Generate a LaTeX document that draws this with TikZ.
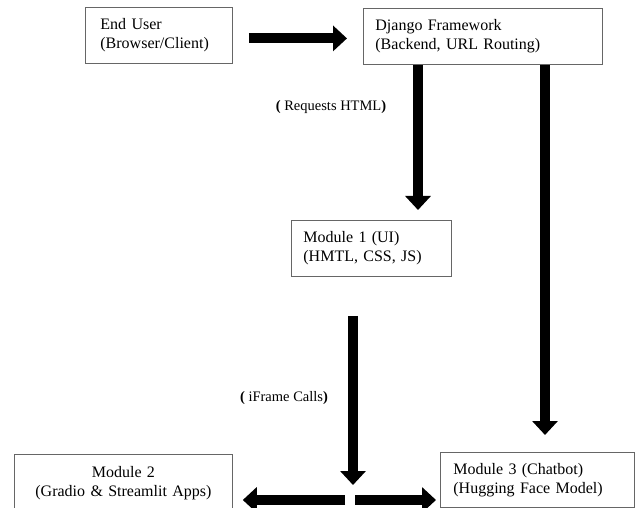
\documentclass[tikz,border=0pt]{standalone}
\usepackage{fontspec}
\setmainfont{Liberation Serif}
\usetikzlibrary{arrows.meta}
\begin{document}
\begin{tikzpicture}[x=1pt,y=-1pt,
  box/.style={draw=black!60, line width=0.8pt, rectangle, anchor=north west,
    inner ysep=0pt, font=\fontsize{16}{19}\selectfont},
  fat/.style={line width=10pt, -{Triangle[length=14pt,width=25pt]}},
  lbl/.style={font=\fontsize{14.5}{17}\selectfont}]
\useasboundingbox (0,0) rectangle (638,508);

\node[box, inner xsep=15pt, text width=117pt, minimum height=56pt, align=left] (eu) at (85,7)
  {End User\\(Browser/Client)};
\node[box, inner xsep=12pt, text width=215pt, minimum height=56pt, align=left] (dj) at (363,8)
  {Django Framework\\(Backend, URL Routing)};
\node[box, inner xsep=12pt, text width=136pt, minimum height=56pt, align=left] (m1) at (291,220)
  {Module 1 (UI)\\(HMTL, CSS, JS)};
\node[box, inner xsep=9pt, text width=200pt, minimum height=58pt, align=center] (m2) at (14,454)
  {Module 2\\(Gradio \& Streamlit Apps)};
\node[box, inner xsep=13pt, text width=168pt, minimum height=55pt, align=left] (m3) at (440,452)
  {Module 3 (Chatbot)\\(Hugging Face Model)};

\coordinate (jt) at (353,485);
\coordinate (jl) at (345,500);
\coordinate (jr) at (355,500);
\path ([yshift=-3pt]eu.east) coordinate (ea);
\path ([xshift=55pt]dj.south west) coordinate (d1);
\path ([xshift=182pt]dj.south west) coordinate (d2);

\draw[fat, shorten <=16pt, shorten >=16pt] (ea) -- (dj.west |- ea);
\draw[fat, shorten >=10pt] (d1) -- (d1 |- m1.north);
\draw[fat, shorten >=17pt] (d2) -- (d2 |- m3.north);
\draw[fat, shorten <=39pt] (m1.south -| jt) -- (jt);
\draw[fat, shorten >=10pt] (jl) -- (m2.east |- jl);
\draw[fat, shorten >=4pt] (jr) -- (m3.west |- jr);

\node[lbl] (l1) at (331,107) {{\bfseries(} Requests HTML{\bfseries)}};
\node[lbl] (l2) at (284,398) {{\bfseries(} iFrame Calls{\bfseries)}};
\end{tikzpicture}
\end{document}
